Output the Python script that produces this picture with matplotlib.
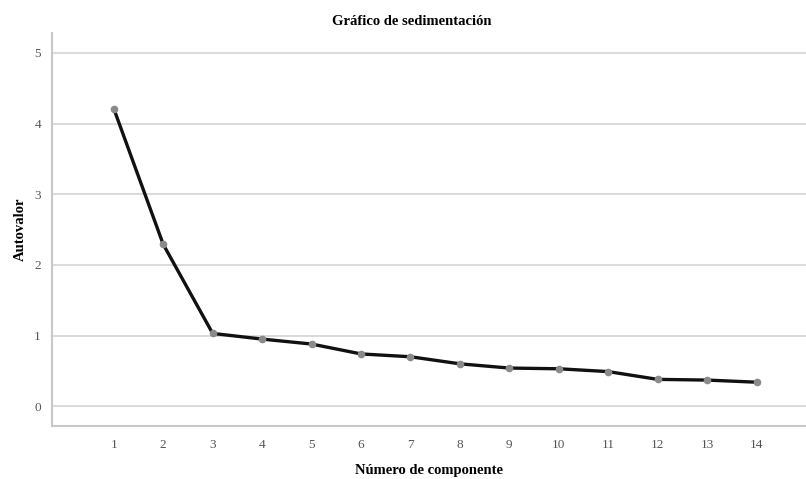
import matplotlib.pyplot as plt

# Scree plot values
componentes = [1, 2, 3, 4, 5, 6, 7, 8, 9, 10, 11, 12, 13, 14]
autovalores = [4.21, 2.29, 1.03, 0.95, 0.88, 0.74, 0.70, 0.60, 0.54, 0.53, 0.49, 0.38, 0.37, 0.34]
y_ticks = [0, 1, 2, 3, 4, 5]

plt.rcParams["font.family"] = ["Liberation Serif", "DejaVu Serif"]

fig = plt.figure(figsize=(8.06, 4.79), dpi=100)
ax = fig.add_axes([0.0645, 0.1106, 0.9355, 0.8204])

ax.plot(componentes, autovalores, color="#111111", linewidth=2.4, zorder=3)
ax.plot(componentes, autovalores, linestyle="none", marker="o", markersize=4.5,
        markerfacecolor="#8a8a8a", markeredgecolor="#8a8a8a", zorder=4)

ax.set_xlim(-0.25, 15)
ax.set_ylim(-0.28, 5.28)
ax.set_xticks(componentes)
ax.set_yticks(y_ticks)
ax.tick_params(axis="both", length=0, colors="#555555", labelsize=9.5)
ax.tick_params(axis="x", pad=9)
ax.tick_params(axis="y", pad=8)

ax.grid(axis="y", color="#d4d4d4", linewidth=1.2)
ax.set_axisbelow(True)
for side in ["top", "right"]:
    ax.spines[side].set_visible(False)
for side in ["left", "bottom"]:
    ax.spines[side].set_color("#c8c8c8")
    ax.spines[side].set_linewidth(1.5)

ax.set_title("Gráfico de sedimentación", fontsize=10.5, fontweight="bold", pad=6, x=0.477)
ax.set_xlabel("Número de componente", fontsize=10.5, fontweight="bold", labelpad=10)
ax.set_ylabel("Autovalor", fontsize=10.5, fontweight="bold", labelpad=5)

fig.savefig("out.png", dpi=100)
